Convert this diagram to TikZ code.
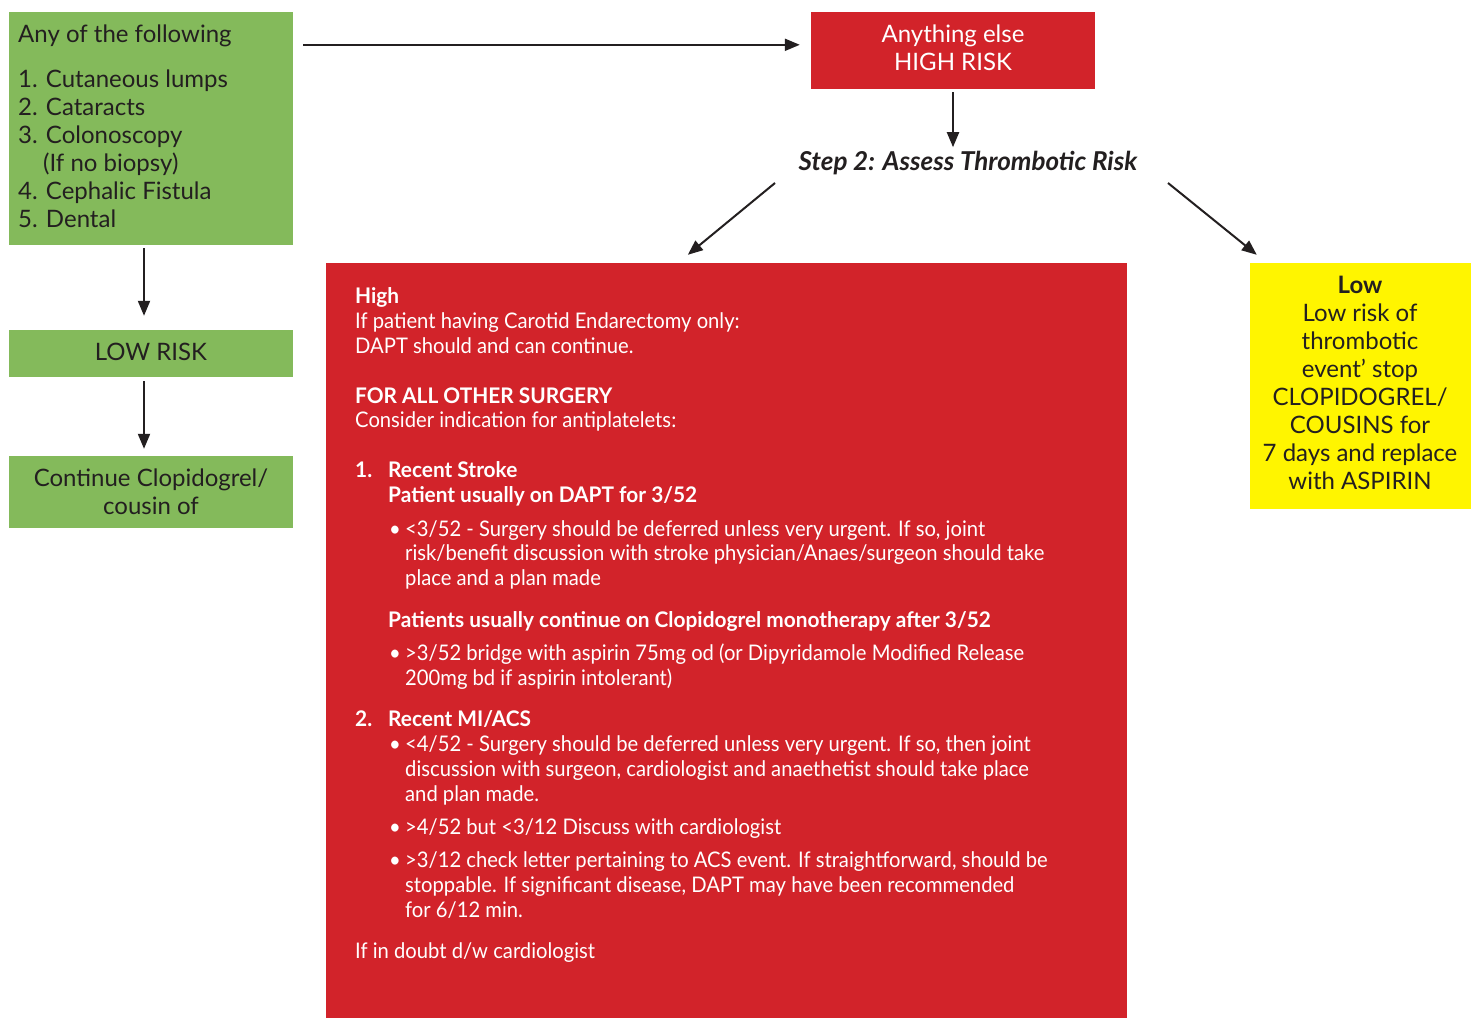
\documentclass[tikz,border=0pt]{standalone}
\usepackage{fontspec}
\setmainfont{Lato}
\newfontfamily\condf[FakeStretch=0.94]{Lato}
\newfontfamily\condb[FakeStretch=0.97]{Lato Bold}
\usetikzlibrary{arrows.meta,calc}
\definecolor{gfill}{HTML}{84BA5B}
\definecolor{rfill}{HTML}{D2232A}
\definecolor{yfill}{HTML}{FFF500}
\definecolor{tcol}{HTML}{231F20}
\tikzset{
  boxg/.style={fill=gfill, draw=none, inner sep=0pt},
  boxr/.style={fill=rfill, draw=none, inner sep=0pt},
  boxy/.style={fill=yfill, draw=none, inner sep=0pt},
  gl/.style={anchor=base west, inner sep=0pt, text=tcol, font=\fontsize{24}{28}\selectfont},
  gc/.style={anchor=base, inner sep=0pt, text=tcol, font=\fontsize{24}{28}\selectfont},
  wc/.style={anchor=base, inner sep=0pt, text=white, font=\fontsize{24}{28}\selectfont},
  rl/.style={anchor=base west, inner sep=0pt, text=white, font=\condf\fontsize{21.5}{25}\selectfont},
  rb/.style={rl, font=\condb\fontsize{21.5}{25}\selectfont},
  arr/.style={line width=2pt, draw=tcol, -{Triangle[length=15pt,width=12pt]}},
}
\begin{document}
\begin{tikzpicture}[x=1pt,y=-1pt]
\useasboundingbox[fill=white] (0,0) rectangle (1477,1018);

% boxes
\node[boxg, minimum width=284pt, minimum height=233pt] (g1) at (151,128.5) {};
\node[boxg, minimum width=284pt, minimum height=47pt] (g2) at (151,353.5) {};
\node[boxg, minimum width=284pt, minimum height=72pt] (g3) at (151,492) {};
\node[boxr, minimum width=284pt, minimum height=77pt] (hr) at (953,50.5) {};
\node[boxr, minimum width=801pt, minimum height=755pt] (high) at (726.5,640.5) {};
\node[boxy, minimum width=221pt, minimum height=246pt] (low) at (1360.5,386) {};

% green box 1 text
\node[gl] (g1a) at (18,42) {Any of the following};
\node[gl] (g1b) at (18,87) {1. Cutaneous lumps};
\node[gl] (g1c) at (18,115) {2. Cataracts};
\node[gl] (g1d) at (18,143) {3. Colonoscopy};
\node[gl] (g1e) at (43,171) {(If no biopsy)};
\node[gl] (g1f) at (18,199) {4. Cephalic Fistula};
\node[gl] (g1g) at (18,227) {5. Dental};

\node[gc] (g2a) at (151,360) {LOW RISK};
\node[gc] (g3a) at (151,486) {Continue Clopidogrel/};
\node[gc] (g3b) at (151,514) {cousin of};

% high risk top box
\node[wc] (hra) at (953,42) {Anything else};
\node[wc] (hrb) at (953,70) {HIGH RISK};

% step 2
\node[anchor=base, inner sep=0pt, text=tcol, font=\bfseries\itshape\fontsize{26}{30}\selectfont] (step) at (968,170) {Step 2: Assess Thrombotic Risk};

% yellow box text
\node[gc, font=\bfseries\fontsize{24}{28}\selectfont] (ya) at (1360,293) {Low};
\node[gc] (yb) at (1360,321) {Low risk of};
\node[gc] (yc) at (1360,349) {thrombotic};
\node[gc] (yd) at (1360,377) {event’ stop};
\node[gc] (ye) at (1360,405) {CLOPIDOGREL/};
\node[gc] (yf) at (1360,433) {COUSINS for};
\node[gc] (yg) at (1360,461) {7 days and replace};
\node[gc] (yh) at (1360,489) {with ASPIRIN};

% big red box text
\node[rb] (r1) at (355,303) {High};
\node[rl] (r2) at (355,328) {If patient having Carotid Endarectomy only:};
\node[rl] (r3) at (355,353) {DAPT should and can continue.};
\node[rb] (r4) at (355,403) {FOR ALL OTHER SURGERY};
\node[rl] (r5) at (355,427) {Consider indication for antiplatelets:};
\node[rb] (r6n) at (355,477) {1.};
\node[rb] (r6) at (388,477) {Recent Stroke};
\node[rb] (r7) at (388,502) {Patient usually on DAPT for 3/52};
\node[rl] (r8b) at (389,536) {•};
\node[rl] (r8) at (405,536) {<3/52 - Surgery should be deferred unless very urgent. If so, joint};
\node[rl] (r9) at (405,560) {risk/benefit discussion with stroke physician/Anaes/surgeon should take};
\node[rl] (r10) at (405,585) {place and a plan made};
\node[rb] (r11) at (388,627) {Patients usually continue on Clopidogrel monotherapy after 3/52};
\node[rl] (r12b) at (389,660) {•};
\node[rl] (r12) at (405,660) {>3/52 bridge with aspirin 75mg od (or Dipyridamole Modified Release};
\node[rl] (r13) at (405,685) {200mg bd if aspirin intolerant)};
\node[rb] (r14n) at (355,726) {2.};
\node[rb] (r14) at (388,726) {Recent MI/ACS};
\node[rl] (r15b) at (389,751) {•};
\node[rl] (r15) at (405,751) {<4/52 - Surgery should be deferred unless very urgent. If so, then joint};
\node[rl] (r16) at (405,776) {discussion with surgeon, cardiologist and anaethetist should take place};
\node[rl] (r17) at (405,801) {and plan made.};
\node[rl] (r18b) at (389,834) {•};
\node[rl] (r18) at (405,834) {>4/52 but <3/12 Discuss with cardiologist};
\node[rl] (r19b) at (389,867) {•};
\node[rl] (r19) at (405,867) {>3/12 check letter pertaining to ACS event. If straightforward, should be};
\node[rl] (r20) at (405,892) {stoppable. If significant disease, DAPT may have been recommended};
\node[rl] (r21) at (405,917) {for 6/12 min.};
\node[rl] (r22) at (355,958) {If in doubt d/w cardiologist};

% connectors
\draw[arr] ($(g1.north east)+(10,33)$) -- ($(hr.north west)+(-11,33)$);
\draw[arr] ($(hr.south)+(0,3)$) -- ($(hr.south)+(0,58)$);
\draw[arr] ($(step.base)+(-193,13)$) -- ($(high.north west)+(362,-8)$);
\draw[arr] ($(step.base)+(200,13)$) -- ($(low.north west)+(7,-8)$);
\draw[arr] ($(g1.south)+(-7,3)$) -- ($(g2.north)+(-7,-14)$);
\draw[arr] ($(g2.south)+(-7,4)$) -- ($(g3.north)+(-7,-7)$);
\end{tikzpicture}
\end{document}
